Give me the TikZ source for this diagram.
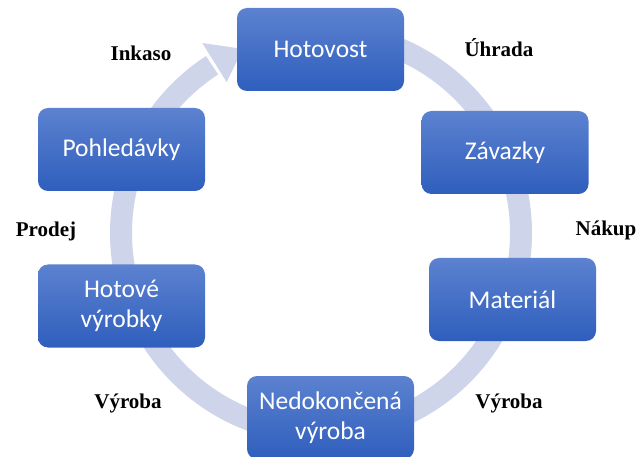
\documentclass[tikz,border=0pt]{standalone}
\usepackage{fontspec}
\setmainfont{Liberation Serif}
\newfontfamily\boxfont{Carlito}
\usetikzlibrary{arrows.meta}
\definecolor{ringc}{RGB}{206,212,234}
\definecolor{boxtop}{RGB}{92,130,208}
\definecolor{boxbot}{RGB}{47,94,189}
\begin{document}
\begin{tikzpicture}[x=1pt,y=1pt,
  stagebox/.style={rounded corners=10pt, top color=boxtop, bottom color=boxbot, draw=none,
    text=white, font=\boxfont\fontsize{25.5}{30}\selectfont, align=center,
    minimum width=167pt, minimum height=83pt, inner sep=0pt},
  flowlabel/.style={font=\bfseries\fontsize{21}{24}\selectfont, inner sep=0pt, anchor=base}]
\useasboundingbox (0,0) rectangle (638,456);
\coordinate (C) at (321,223);
% ring with arrow head
\draw[ringc, line width=22pt] ([shift={(95:200)}]C) arc[start angle=95, end angle=-237, radius=200];
\fill[ringc] ([shift={(122:178)}]C) -- ([shift={(122:224)}]C) -- ([shift={(113:200)}]C) -- cycle;
% stages
\node[stagebox] (hot) at (320.5,406.5) {Hotovost};
\node[stagebox] (zav) at (505,303.5) {Závazky};
\node[stagebox] (mat) at (512.5,156.5) {Materiál};
\node[stagebox] (ned) at (330.5,38.5) {Nedokončená\\výroba};
\node[stagebox] (hvy) at (121.5,150) {Hotové\\výrobky};
\node[stagebox] (poh) at (121.5,306.5) {Pohledávky};
% labels
\node[flowlabel] (l1) at (141,395) {Inkaso};
\node[flowlabel] (l2) at (499,399) {Úhrada};
\node[flowlabel] (l3) at (606,220) {Nákup};
\node[flowlabel] (l4) at (46,219) {Prodej};
\node[flowlabel] (l5) at (128,48) {Výroba};
\node[flowlabel] (l6) at (509,48) {Výroba};
\end{tikzpicture}
\end{document}
